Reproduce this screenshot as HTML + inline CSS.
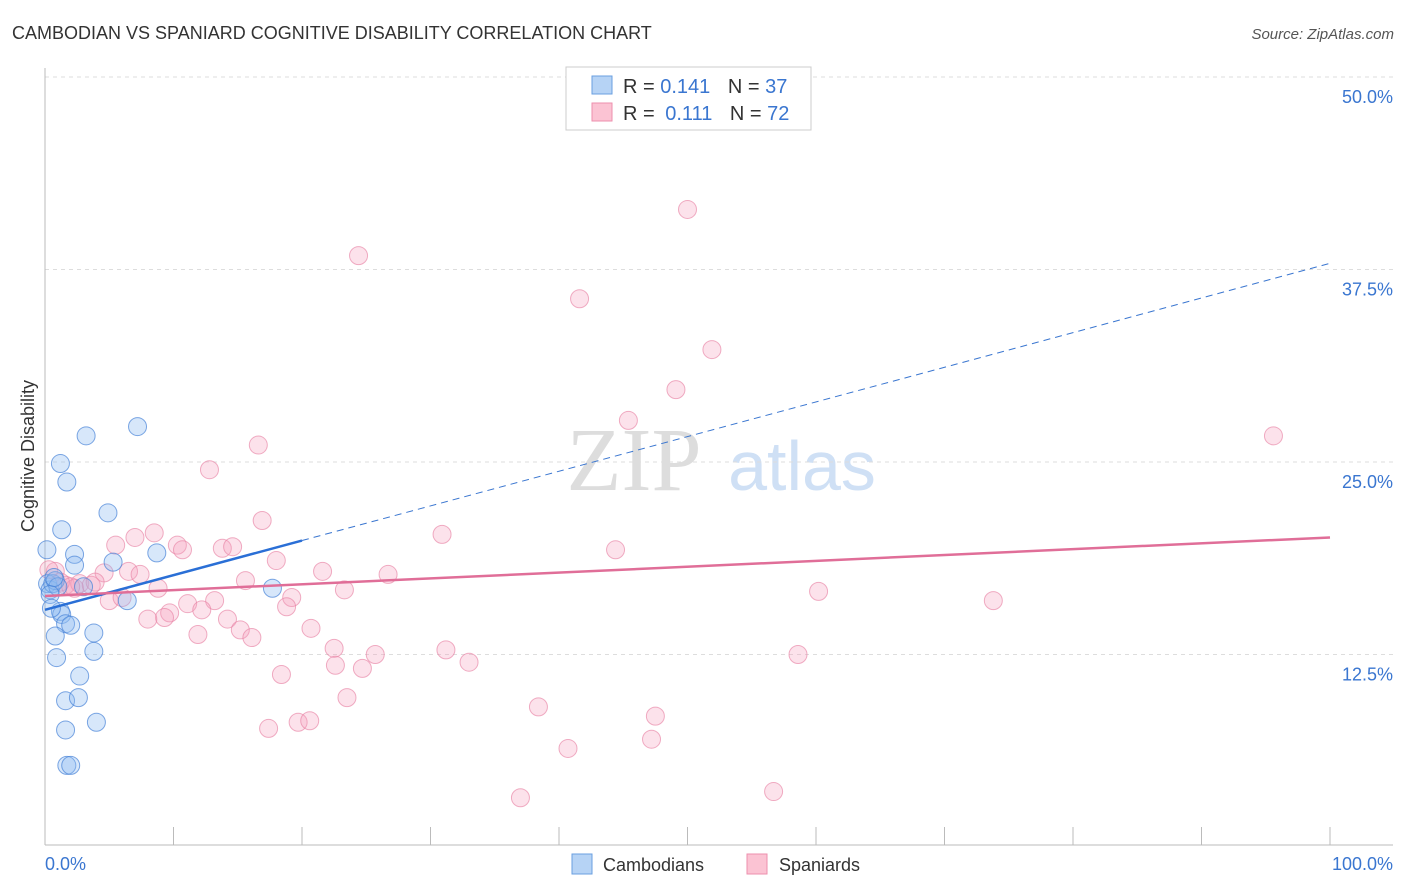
<!DOCTYPE html>
<html><head><meta charset="utf-8"><style>
body{margin:0;background:#fff;font-family:"Liberation Sans",sans-serif;}
svg{display:block}
</style></head><body>
<svg id="chart" width="1406" height="892" viewBox="0 0 1406 892">
<text x="12" y="39" font-size="18" fill="#333">CAMBODIAN VS SPANIARD COGNITIVE DISABILITY CORRELATION CHART</text>
<text x="1394" y="39" font-size="15" fill="#555" text-anchor="end" font-style="italic">Source: ZipAtlas.com</text>
<g>
<text x="634" y="490" font-size="90" fill="#ddd" font-family="Liberation Serif" text-anchor="middle">ZIP</text>
<text x="802" y="490" font-size="70" fill="#cfe0f5" text-anchor="middle">atlas</text>
</g>
<g id="grid"></g>
<g id="axes"></g>
<g id="marks"></g>
<text transform="translate(34,456) rotate(-90)" font-size="18" fill="#333" text-anchor="middle">Cognitive Disability</text>
<text x="45" y="870" font-size="18" fill="#3a76d0">0.0%</text>
<text x="1393" y="870" font-size="18" fill="#3a76d0" text-anchor="end">100.0%</text>
<g>
<rect x="566" y="67" width="245" height="63" fill="#fff" stroke="#ccc"/>
<rect x="592" y="76" width="20" height="18" fill="#b6d3f5" stroke="#6a9fe0"/>
<rect x="592" y="103" width="20" height="18" fill="#fbc3d3" stroke="#ee8fae"/>
<text x="623" y="93" font-size="20" fill="#333">R = <tspan fill="#3a76d0">0.141</tspan>  <tspan dx="12">N = </tspan><tspan fill="#3a76d0">37</tspan></text>
<text x="623" y="120" font-size="20" fill="#333">R = <tspan fill="#3a76d0" dx="5">0.111</tspan>  <tspan dx="12">N = </tspan><tspan fill="#3a76d0">72</tspan></text>
</g>
<g>
<rect x="572" y="854" width="20" height="20" fill="#b6d3f5" stroke="#6a9fe0"/>
<text x="603" y="871" font-size="18" fill="#333">Cambodians</text>
<rect x="747" y="854" width="20" height="20" fill="#fbc3d3" stroke="#ee8fae"/>
<text x="779" y="871" font-size="18" fill="#333">Spaniards</text>
</g>
</svg>
<script>
const yTicks=[12.5,25,37.5,50];
const yTickLabels=["12.5%","25.0%","37.5%","50.0%"];
const xTicks=[0,10,20,30,40,50,60,70,80,90,100];
const camX=[0.15,0.2,0.4,0.6,0.8,1.0,1.2,1.3,1.6,3.2,7.2,1.2,1.7,4.9,1.3,2.3,2.3,5.3,8.7,3.0,6.4,17.7,0.8,3.8,2.0,3.8,0.9,2.7,1.6,2.6,4.0,1.6,1.7,2.0,0.4,0.5,0.7];
const camY=[19.3,17.1,16.7,17.1,17.3,16.9,15.3,15.1,14.5,26.7,27.3,24.9,23.7,21.7,20.6,19.0,18.3,18.5,19.1,16.9,16.0,16.8,13.7,13.9,14.4,12.7,12.3,11.1,9.5,9.7,8.1,7.6,5.3,5.3,16.4,15.5,17.5];
const spaX=[50,24.4,41.6,51.9,49.1,45.4,95.6,16.6,12.8,16.9,30.9,44.4,8.5,7.0,5.5,10.3,10.7,13.8,14.6,18.0,21.6,26.7,6.5,7.4,4.6,15.6,8.8,23.3,60.2,73.8,19.2,5.0,6.0,11.1,13.2,18.8,12.2,9.7,9.3,8.0,14.2,15.2,16.1,11.9,20.7,22.5,31.2,25.7,22.6,24.7,33.0,58.6,18.4,23.5,38.4,47.5,19.7,20.6,17.4,47.2,40.7,37.0,56.7,0.8,1.6,2.3,2.7,3.6,3.9,0.3,1.2,2.0];
const spaY=[41.4,38.4,35.6,32.3,29.7,27.7,26.7,26.1,24.5,21.2,20.3,19.3,20.4,20.1,19.6,19.6,19.3,19.4,19.5,18.6,17.9,17.7,17.9,17.7,17.8,17.3,16.8,16.7,16.6,16.0,16.2,16.0,16.2,15.8,16.0,15.6,15.4,15.2,14.9,14.8,14.8,14.1,13.6,13.8,14.2,12.9,12.8,12.5,11.8,11.6,12.0,12.5,11.2,9.7,9.1,8.5,8.1,8.2,7.7,7.0,6.4,3.2,3.6,17.9,17.0,16.8,17.1,17.0,17.2,18.0,17.2,16.9];
const camTrend=[15.4,19.9,37.9];
const spaTrend=[16.3,20.1];
const NS="http://www.w3.org/2000/svg";
const X=v=>45+v*12.85, Y=v=>847-v*15.4;
function mk(p,t,a){const e=document.createElementNS(NS,t);for(const k in a)e.setAttribute(k,a[k]);p.appendChild(e);return e;}
const grid=document.getElementById('grid'),axes=document.getElementById('axes'),marks=document.getElementById('marks');
yTicks.forEach((t,i)=>{
 const l=mk(grid,'line',{x1:45,x2:1393,y1:Y(t),y2:Y(t),stroke:'#ddd','stroke-dasharray':'4,4'});
 
 
 const tx=mk(axes,'text',{x:1393,y:Y(t)+26,'font-size':18,fill:'#3a76d0','text-anchor':'end'});
 tx.textContent=yTickLabels[i];
 
 
});
const ax=mk(axes,'line',{x1:45,x2:1393,y1:845,y2:845,stroke:'#bbb'});


const ay=mk(axes,'line',{x1:45,x2:45,y1:68,y2:845,stroke:'#bbb'});


xTicks.forEach(t=>{const l=mk(axes,'line',{x1:X(t),x2:X(t),y1:827,y2:845,stroke:'#bbb'});
 
 });
spaX.forEach((v,i)=>{const c=mk(marks,'circle',{cx:X(v),cy:Y(spaY[i]),r:9,fill:'rgba(245,160,188,0.3)',stroke:'rgba(232,130,165,0.65)','stroke-width':1});
 
 });
camX.forEach((v,i)=>{const c=mk(marks,'circle',{cx:X(v),cy:Y(camY[i]),r:9,fill:'rgba(140,185,240,0.35)',stroke:'rgba(70,130,215,0.7)','stroke-width':1});
 
 });
const l1=mk(marks,'line',{x1:X(20),y1:Y(camTrend[1]),x2:X(100),y2:Y(camTrend[2]),stroke:'#3a76d0','stroke-width':1,'stroke-dasharray':'7,5'});


const l2=mk(marks,'line',{x1:X(0),y1:Y(camTrend[0]),x2:X(20),y2:Y(camTrend[1]),stroke:'#2a6fd6','stroke-width':2.5});


const l3=mk(marks,'line',{x1:X(0),y1:Y(spaTrend[0]),x2:X(100),y2:Y(spaTrend[1]),stroke:'#e06e98','stroke-width':2.5});


</script>
</body></html>
